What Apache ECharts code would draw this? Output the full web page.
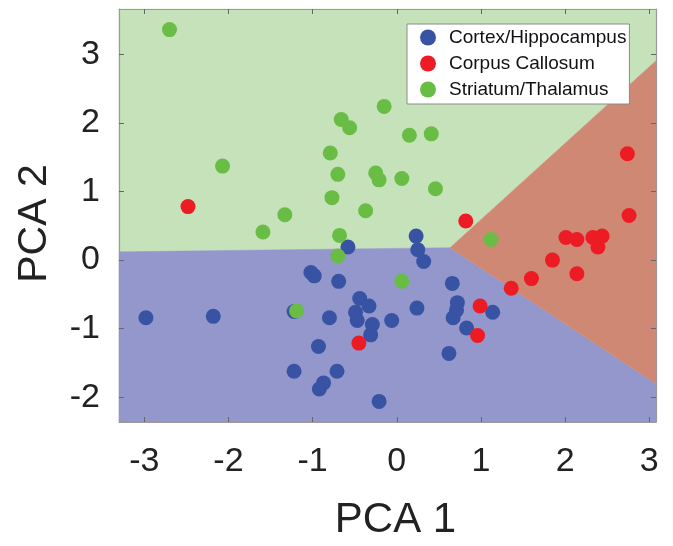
<!DOCTYPE html>
<html>
<head>
<meta charset="utf-8">
<script src="https://cdn.jsdelivr.net/npm/echarts@6/dist/echarts.min.js"></script>
<style>
html,body{margin:0;padding:0;background:#fff;}
#chart{width:673px;height:546px;}
</style>
</head>
<body>
<div id="chart"></div>
<script>
// ---- data ----
var xTicks = [-3, -2, -1, 0, 1, 2, 3];
var yTicks = [-2, -1, 0, 1, 2, 3];
var xRange = [-3.3, 3.08];
var yRange = [-2.36, 3.66];

var cortexHippocampus = [
  [-2.98,-0.84],[-2.18,-0.82],
  [-1.22,-0.75],[-1.02,-0.18],[-0.98,-0.23],[-0.69,-0.31],[-0.58,0.19],
  [-0.44,-0.56],[-0.33,-0.67],[-0.49,-0.76],[-0.47,-0.88],[-0.80,-0.84],[-0.06,-0.88],[-0.29,-0.94],[-0.31,-1.09],
  [-0.93,-1.26],[-1.22,-1.62],[-0.71,-1.62],[-0.87,-1.79],[-0.92,-1.88],[-0.21,-2.06],
  [0.23,0.35],[0.25,0.15],[0.32,-0.02],[0.24,-0.70],[0.66,-0.34],[0.72,-0.62],[0.71,-0.73],[0.67,-0.84],
  [1.14,-0.76],[0.83,-0.99],[0.62,-1.36]
];
var corpusCallosum = [
  [-2.48,0.78],[0.82,0.57],[-0.45,-1.21],[0.99,-0.67],[0.96,-1.10],[1.36,-0.41],[1.60,-0.27],
  [1.85,0.00],[2.14,-0.20],[2.01,0.33],[2.14,0.30],[2.33,0.33],[2.44,0.35],[2.39,0.19],
  [2.74,1.55],[2.76,0.65]
];
var striatumThalamus = [
  [-2.70,3.36],[-2.07,1.37],[-1.59,0.41],[-1.33,0.66],[-0.15,2.24],[-0.66,2.05],[-0.56,1.93],
  [0.15,1.82],[0.41,1.84],[-0.79,1.56],[-0.70,1.25],[-0.25,1.27],[-0.21,1.17],[0.06,1.19],
  [0.46,1.04],[-0.77,0.91],[-0.37,0.72],[-0.68,0.36],[-0.70,0.06],[0.06,-0.31],[-1.19,-0.74],[1.12,0.30]
];

// decision regions (polygon vertices in data units)
var regionGreen = [[-3.3,0.12],[0.633,0.181],[3.08,2.907],[3.08,3.66],[-3.3,3.66]];
var regionBlue  = [[-3.3,-2.36],[3.08,-2.36],[3.08,-1.803],[0.633,0.181],[-3.3,0.12]];
var regionRed   = [[0.633,0.181],[3.08,2.907],[3.08,-1.803]];

var seriesNames = ['Cortex/Hippocampus', 'Corpus Callosum', 'Striatum/Thalamus'];

// ---- chart ----
var FONT = '"Liberation Sans", Arial, Helvetica, sans-serif';
function regionSeries(verts, color) {
  return {
    type: 'custom',
    silent: true,
    z: 1,
    data: verts,
    renderItem: function (params, api) {
      if (params.dataIndex !== 0) return null;
      var pts = verts.map(function (v) { return api.coord(v); });
      return { type: 'polygon', shape: { points: pts }, style: { fill: color, stroke: color, lineWidth: 0.5 } };
    }
  };
}
function tickAxisCommon(extra) {
  return Object.assign({
    type: 'value',
    axisLine: { show: true, onZero: false, lineStyle: { color: '#9a9a9a', width: 1.2 } },
    splitLine: { show: false },
    z: 10
  }, extra);
}

var chart = echarts.init(document.getElementById('chart'), null, { renderer: 'canvas' });
chart.setOption({
  animation: false,
  backgroundColor: '#ffffff',
  grid: { left: 119, right: 17, top: 9, bottom: 117, containLabel: false },
  legend: {
    orient: 'vertical',
    left: 407, top: 24,
    data: seriesNames,
    icon: 'circle',
    itemWidth: 32, itemHeight: 16,
    itemGap: 7,
    padding: [4, 3, 5, 13],
    backgroundColor: '#ffffff',
    borderColor: '#8a8a8a', borderWidth: 1,
    textStyle: { fontFamily: FONT, fontSize: 19, color: '#111' },
    z: 20
  },
  xAxis: [
    tickAxisCommon({
      position: 'bottom', min: xRange[0], max: xRange[1],
      name: 'PCA 1', nameLocation: 'middle', nameGap: 77,
      nameTextStyle: { fontFamily: FONT, fontSize: 42, color: '#222', padding: [0, 0, 0, 16] },
      axisTick: { show: true, inside: true, length: 5, customValues: xTicks, lineStyle: { color: '#666' } },
      axisLabel: { show: true, customValues: xTicks, margin: 23, fontFamily: FONT, fontSize: 34, color: '#222' }
    }),
    tickAxisCommon({
      position: 'top', min: xRange[0], max: xRange[1],
      axisTick: { show: true, inside: true, length: 5, customValues: xTicks, lineStyle: { color: '#666' } },
      axisLabel: { show: false }
    })
  ],
  yAxis: [
    tickAxisCommon({
      position: 'left', min: yRange[0], max: yRange[1],
      name: 'PCA 2', nameLocation: 'middle', nameGap: 64,
      nameTextStyle: { fontFamily: FONT, fontSize: 41, color: '#222', padding: [0, 16, 0, 0] },
      axisTick: { show: true, inside: true, length: 5, customValues: yTicks, lineStyle: { color: '#666' } },
      axisLabel: { show: true, customValues: yTicks, margin: 19, fontFamily: FONT, fontSize: 34, color: '#222' }
    }),
    tickAxisCommon({
      position: 'right', min: yRange[0], max: yRange[1],
      axisTick: { show: true, inside: true, length: 5, customValues: yTicks, lineStyle: { color: '#666' } },
      axisLabel: { show: false }
    })
  ],
  series: [
    regionSeries(regionGreen, '#c6e2bb'),
    regionSeries(regionBlue, '#9397cb'),
    regionSeries(regionRed, '#cf8873'),
    { name: seriesNames[0], type: 'scatter', symbolSize: 15, z: 5, data: cortexHippocampus,
      itemStyle: { color: '#3953a4', opacity: 1 } },
    { name: seriesNames[1], type: 'scatter', symbolSize: 15, z: 5, data: corpusCallosum,
      itemStyle: { color: '#ed1c24', opacity: 1 } },
    { name: seriesNames[2], type: 'scatter', symbolSize: 15, z: 5, data: striatumThalamus,
      itemStyle: { color: '#69bd45', opacity: 1 } }
  ]
});
</script>
</body>
</html>
